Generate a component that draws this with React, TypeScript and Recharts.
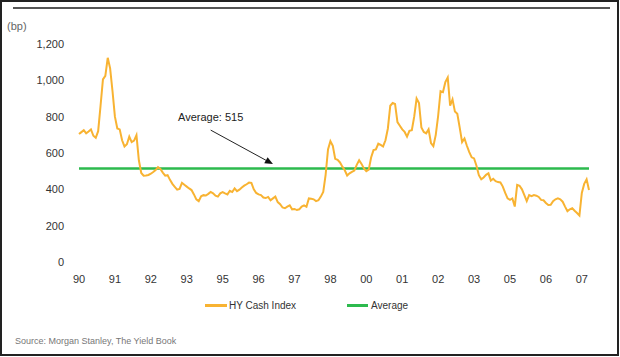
import React from 'react';
import { LineChart, Line, XAxis, YAxis, ReferenceLine, ReferenceDot, Legend } from 'recharts';

// Monthly HY Cash Index spread (bp), Jan 1990 - Oct 2007
const HY_SPREAD = [
  704, 715, 726, 708, 718, 730, 695, 684, 720, 860, 1005, 1025,
  1124, 1066, 940, 800, 735, 730, 670, 636, 648, 690, 660, 668,
  698, 560, 490, 475, 476, 479, 486, 495, 506, 522, 512, 492,
  475, 478, 452, 430, 414, 398, 402, 436, 425, 415, 405, 396,
  372, 345, 335, 362, 368, 366, 375, 386, 378, 365, 360, 378,
  385, 378, 372, 392, 385, 405, 390, 398, 410, 420, 428, 437,
  435, 400, 380, 372, 368, 355, 352, 358, 340, 350, 360, 330,
  318, 300, 296, 305, 312, 290, 292, 286, 290, 305, 312, 304,
  350, 348, 345, 335, 340, 360, 385, 480, 620, 665, 640, 568,
  562, 548, 525, 505, 476, 488, 496, 503, 535, 560, 540, 515,
  500, 508, 575, 616, 620, 652, 645, 636, 670, 735, 860, 875,
  870, 770, 750, 730, 716, 690, 722, 726, 800, 900, 875, 740,
  716, 708, 730, 655, 638, 700, 805, 940, 935, 990, 1015, 860,
  895, 828, 816, 740, 660, 680, 640, 605, 576, 570, 530, 478,
  455, 465, 480, 488, 448, 458, 445, 440, 438, 415, 380, 350,
  342, 350, 305, 425, 420, 400, 368, 335, 368, 362, 368, 365,
  358, 342, 340, 325, 314, 315, 335, 345, 350, 345, 332, 305,
  280, 290, 296, 282, 270, 256, 380, 430, 455, 396,
];

const TICK_LABELS = ['90', '91', '92', '93', '95', '96', '97', '98', '00', '01', '02', '03', '05', '06', '07'];
const TICK_STEP = 15; // one label every 15 months
const Y_TICKS = [0, 200, 400, 600, 800, 1000, 1200];
const AVERAGE = 515;
const ANNOTATION_TEXT = 'Average: 515';

const data = HY_SPREAD.map((v, i) => ({ i, hy: v }));
const xTicks = TICK_LABELS.map((_, k) => k * TICK_STEP);

const HY_COLOR = '#F8B332';
const AVG_COLOR = '#2DBA4E';
const FONT = "'Liberation Sans', Arial, sans-serif";

const Arrow = (p: any) => {
  const { x1, y1, x2, y2 } = p;
  const ang = Math.atan2(y2 - y1, x2 - x1);
  const L = 8;
  const W = 3.5;
  const bx = x2 - L * Math.cos(ang);
  const by = y2 - L * Math.sin(ang);
  const px = -Math.sin(ang) * W;
  const py = Math.cos(ang) * W;
  return (
    <g>
      <line x1={x1} y1={y1} x2={bx} y2={by} stroke="#222" strokeWidth={1} />
      <polygon points={`${x2},${y2} ${bx + px},${by + py} ${bx - px},${by - py}`} fill="#111" />
    </g>
  );
};

const LegendContent = () => (
  <div style={{ position: 'relative', width: 620, height: 20, fontSize: 10, color: '#333', fontFamily: FONT }}>
    <div style={{ position: 'absolute', left: 205, top: 8, width: 22, height: 2.5, background: HY_COLOR }} />
    <div style={{ position: 'absolute', left: 229, top: 5, lineHeight: '10px', whiteSpace: 'nowrap' }}>HY Cash Index</div>
    <div style={{ position: 'absolute', left: 347, top: 8, width: 21, height: 2.5, background: AVG_COLOR }} />
    <div style={{ position: 'absolute', left: 371, top: 5, lineHeight: '10px', whiteSpace: 'nowrap' }}>Average</div>
  </div>
);

export default function App() {
  return (
    <div style={{ position: 'absolute', left: 0, top: 0, width: 620, height: 357, background: '#fff', fontFamily: FONT }}>
      <LineChart width={620} height={357} data={data} margin={{ top: 44, right: 31, bottom: 65, left: 0 }} style={{ fontFamily: FONT }}>
        <XAxis
          type="number"
          dataKey="i"
          domain={[0, HY_SPREAD.length - 1]}
          ticks={xTicks}
          interval={0}
          tickFormatter={(v: number) => TICK_LABELS[Math.round(v / TICK_STEP)]}
          axisLine={false}
          tickLine={false}
          tickMargin={7}
          height={30}
          tick={{ fill: '#333', fontSize: 11 }}
        />
        <YAxis
          domain={[0, 1200]}
          ticks={Y_TICKS}
          interval={0}
          tickFormatter={(v: number) => v.toLocaleString('en-US')}
          axisLine={false}
          tickLine={false}
          tickMargin={9}
          width={79}
          tick={{ fill: '#333', fontSize: 11 }}
        />
        <ReferenceLine y={AVERAGE} stroke={AVG_COLOR} strokeWidth={2.5} />
        <Line type="linear" dataKey="hy" stroke={HY_COLOR} strokeWidth={2} dot={false} isAnimationActive={false} />
        <ReferenceLine segment={[{ x: 55, y: 726 }, { x: 81, y: 539 }]} shape={Arrow} />
        <ReferenceDot
          x={55}
          y={798}
          r={0}
          fill="none"
          stroke="none"
          label={{ value: ANNOTATION_TEXT, position: 'center', fill: '#222', fontSize: 11 }}
        />
        <Legend
          verticalAlign="middle"
          layout="horizontal"
          wrapperStyle={{ left: 0, top: 296, width: 620, height: 20 }}
          content={LegendContent}
        />
      </LineChart>
      <div style={{ position: 'absolute', left: 7, top: 21, fontSize: 11, lineHeight: '11px', color: '#666' }}>(bp)</div>
      <div style={{ position: 'absolute', left: 15, top: 337, fontSize: 9, lineHeight: '9px', color: '#777', whiteSpace: 'nowrap' }}>
        Source: Morgan Stanley, The Yield Book
      </div>
      <div style={{ position: 'absolute', left: 13, top: 7, width: 597, height: 2, background: '#555' }} />
      <div style={{ position: 'absolute', left: 0, top: 0, width: 619, height: 356, border: '2px solid #222', boxSizing: 'border-box', pointerEvents: 'none' }} />
    </div>
  );
}
